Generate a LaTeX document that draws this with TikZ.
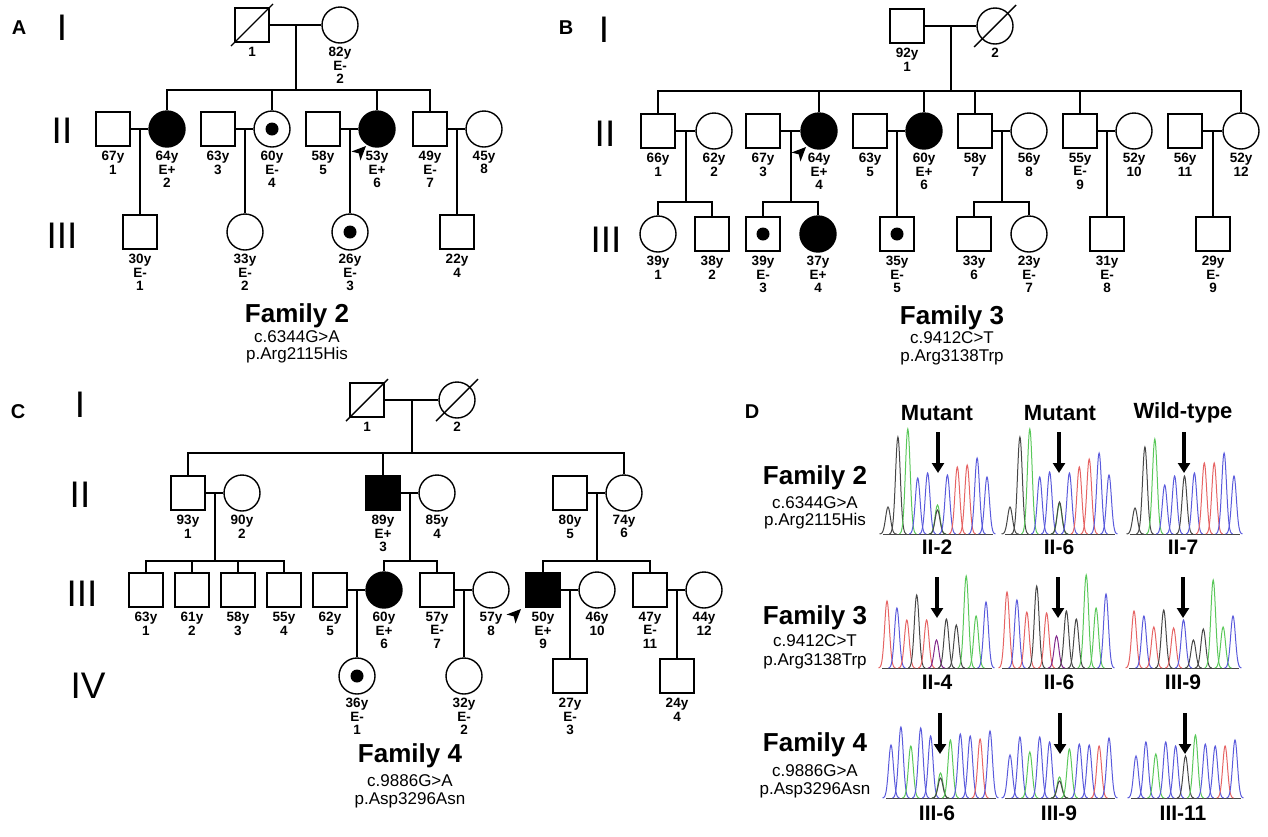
\documentclass[tikz,border=0pt]{standalone}
\usepackage{fontspec}
\setmainfont{Liberation Sans}
\usetikzlibrary{calc,arrows.meta}

\definecolor{ck}{RGB}{70,70,70}
\definecolor{cg}{RGB}{90,200,90}
\definecolor{cb}{RGB}{90,90,220}
\definecolor{cr}{RGB}{230,100,100}
\definecolor{cp}{RGB}{130,40,140}

\tikzset{
  person/.style={draw, line width=1.4pt, inner sep=0pt},
  male/.style={person, rectangle, minimum size=34pt},
  female/.style={person, circle, minimum size=36pt},
  maleaff/.style={male, fill=black},
  femaleaff/.style={female, fill=black},
  maledot/.style={male, path picture={\fill (path picture bounding box.center) circle (6.5pt);}},
  femaledot/.style={female, path picture={\fill (path picture bounding box.center) circle (6.5pt);}},
  lbl/.style={anchor=north, inner sep=0pt, align=center, font=\bfseries\fontsize{13.5}{13.5}\selectfont},
  ped/.style={line width=1.4pt},
  genno/.style={font=\fontsize{37}{40}\selectfont},
  panel/.style={font=\bfseries\fontsize{20}{22}\selectfont},
  fam/.style={font=\bfseries\fontsize{26}{28}\selectfont},
  hgvs/.style={font=\fontsize{17}{19}\selectfont},
  hdr/.style={font=\bfseries\fontsize{22}{24}\selectfont},
  smp/.style={font=\bfseries\fontsize{21}{23}\selectfont},
  basel/.style={ck, line width=1pt},
  seqarrow/.style={line width=3.5pt, -{Triangle[length=10pt,width=12pt]}},
}

% proband pointer, tip at #1
\newcommand{\probandtip}[1]{%
  \fill (#1) -- ++(-14.5,5.5) -- ++(7.2,1.8) -- ++(1.8,7.2) -- cycle;
}

% one trace: left x, baseline y, peaks as pos/colour/height
\newcommand{\chromat}[3]{%
  \draw[basel] (#1,#2) -- ++(110,0);
  \foreach \p/\cl/\h in {#3}
    \draw[\cl, line width=1pt] plot[domain=-8.5:8.5, samples=25, smooth]
      ({#1+5+9.9*\p+\x},{#2-\h*exp(-((\x)*(\x))/11.5)});
}

\begin{document}
\begin{tikzpicture}[x=1pt,y=-1pt]
\useasboundingbox (0,0) rectangle (1268,836);

% panel letters and generations
\node[panel] (pA) at (19,28) {A};
\node[panel] (pB) at (566,28) {B};
\node[panel] (pC) at (18,412) {C};
\node[panel] (pD) at (752,412) {D};
\foreach \n/\x/\y/\t in {A1/62/28/I, A2/62/131/II, A3/62/236/III,
    B1/604/30/I, B2/605/134/II, B3/606/240/III,
    C1/80/405/I, C2/80/495/II, C3/82/594/III, C4/88/686/IV}
  \node[genno] (g\n) at (\x,\y) {\t};

% ---------------- Family 2
\foreach \n/\x/\s/\t in {1/252/male/1, 2/340/female/{82y\\E-\\2}}{
  \node[\s] (A1\n) at (\x,25) {};
  \node[lbl] (tA1\n) at ($(A1\n)+(0,22)$) {\t};
}
\foreach \n/\x/\s/\t in {1/113/male/{67y\\1}, 2/167/femaleaff/{64y\\E+\\2},
    3/218/male/{63y\\3}, 4/272/femaledot/{60y\\E-\\4}, 5/323/male/{58y\\5},
    6/377/femaleaff/{53y\\E+\\6}, 7/430/male/{49y\\E-\\7}, 8/484/female/{45y\\8}}{
  \node[\s] (A2\n) at (\x,129) {};
  \node[lbl] (tA2\n) at ($(A2\n)+(0,22)$) {\t};
}
\foreach \n/\x/\s/\t in {1/140/male/{30y\\E-\\1}, 2/245/female/{33y\\E-\\2},
    3/350/femaledot/{26y\\E-\\3}, 4/457/male/{22y\\4}}{
  \node[\s] (A3\n) at (\x,232) {};
  \node[lbl] (tA3\n) at ($(A3\n)+(0,22)$) {\t};
}
\draw[ped] (A11) -- (A12);
\coordinate (mA1) at ($(A11)!.5!(A12)$);
\coordinate (sA2) at (0,90);
\draw[ped] (mA1) -- (mA1 |- sA2);
\draw[ped] (A22.north) -- (A22.north |- sA2) -- (A27.north |- sA2) -- (A27.north);
\foreach \k in {A24,A26} \draw[ped] (\k.north) -- (\k.north |- sA2);
\foreach \a/\b/\ch in {A21/A22/A31, A23/A24/A32, A25/A26/A33, A27/A28/A34}{
  \draw[ped] (\a) -- (\b);
  \coordinate (m\ch) at ($(\a)!.5!(\b)$);
  \draw[ped] (m\ch) -- (m\ch |- \ch.north);
}
\coordinate (pA) at (366,146);
\probandtip{pA}
\node[fam] (fA) at (297,316) {Family 2};
\node[hgvs] (fAc) at (297,337) {c.6344G>A};
\node[hgvs] (fAp) at (297,355) {p.Arg2115His};

% ---------------- Family 3
\foreach \n/\x/\s/\t in {1/907/male/{92y\\1}, 2/995/female/2}{
  \node[\s] (B1\n) at (\x,26) {};
  \node[lbl] (tB1\n) at ($(B1\n)+(0,22)$) {\t};
}
\foreach \n/\x/\s/\t in {1/658/male/{66y\\1}, 2/714/female/{62y\\2},
    3/763/male/{67y\\3}, 4/819/femaleaff/{64y\\E+\\4}, 5/870/male/{63y\\5},
    6/924/femaleaff/{60y\\E+\\6}, 7/975/male/{58y\\7}, 8/1029/female/{56y\\8},
    9/1080/male/{55y\\E-\\9}, 10/1134/female/{52y\\10}, 11/1185/male/{56y\\11},
    12/1241/female/{52y\\12}}{
  \node[\s] (B2\n) at (\x,131) {};
  \node[lbl] (tB2\n) at ($(B2\n)+(0,22)$) {\t};
}
\foreach \n/\x/\s/\t in {1/658/female/{39y\\1}, 2/712/male/{38y\\2},
    3/763/maledot/{39y\\E-\\3}, 4/818/femaleaff/{37y\\E+\\4},
    5/897/maledot/{35y\\E-\\5}, 6/974/male/{33y\\6}, 7/1029/female/{23y\\E-\\7},
    8/1107/male/{31y\\E-\\8}, 9/1213/male/{29y\\E-\\9}}{
  \node[\s] (B3\n) at (\x,234) {};
  \node[lbl] (tB3\n) at ($(B3\n)+(0,22)$) {\t};
}
\draw[ped] (B11) -- (B12);
\coordinate (mB1) at ($(B11)!.5!(B12)$);
\coordinate (sB2) at (0,91);
\coordinate (sB3) at (0,202);
\draw[ped] (mB1) -- (mB1 |- sB2);
\draw[ped] (B21.north) -- (B21.north |- sB2) -- (B212.north |- sB2) -- (B212.north);
\foreach \k in {B24,B26,B27,B29} \draw[ped] (\k.north) -- (\k.north |- sB2);
\foreach \a/\b/\m in {B21/B22/1, B23/B24/2, B25/B26/3, B27/B28/4, B29/B210/5, B211/B212/6}{
  \draw[ped] (\a) -- (\b);
  \coordinate (mB2\m) at ($(\a)!.5!(\b)$);
}
\foreach \m/\l/\r in {1/B31/B32, 2/B33/B34, 4/B36/B37}{
  \draw[ped] (mB2\m) -- (mB2\m |- sB3);
  \draw[ped] (\l.north) -- (\l.north |- sB3) -- (\r.north |- sB3) -- (\r.north);
}
\foreach \m/\k in {3/B35, 5/B38, 6/B39} \draw[ped] (mB2\m) -- (mB2\m |- \k.north);
\coordinate (pB) at (806,147);
\probandtip{pB}
\node[fam] (fB) at (952,318) {Family 3};
\node[hgvs] (fBc) at (952,338) {c.9412C>T};
\node[hgvs] (fBp) at (952,357) {p.Arg3138Trp};

% ---------------- Family 4
\foreach \n/\x/\s/\t in {1/367/male/1, 2/457/female/2}{
  \node[\s] (C1\n) at (\x,400) {};
  \node[lbl] (tC1\n) at ($(C1\n)+(0,22)$) {\t};
}
\foreach \n/\x/\s/\t in {1/188/male/{93y\\1}, 2/242/female/{90y\\2},
    3/383/maleaff/{89y\\E+\\3}, 4/437/female/{85y\\4}, 5/570/male/{80y\\5},
    6/624/female/{74y\\6}}{
  \node[\s] (C2\n) at (\x,493) {};
  \node[lbl] (tC2\n) at ($(C2\n)+(0,22)$) {\t};
}
\foreach \n/\x/\s/\t in {1/146/male/{63y\\1}, 2/192/male/{61y\\2}, 3/238/male/{58y\\3},
    4/284/male/{55y\\4}, 5/330/male/{62y\\5}, 6/384/femaleaff/{60y\\E+\\6},
    7/437/male/{57y\\E-\\7}, 8/491/female/{57y\\8}, 9/543/maleaff/{50y\\E+\\9},
    10/597/female/{46y\\10}, 11/650/male/{47y\\E-\\11}, 12/704/female/{44y\\12}}{
  \node[\s] (C3\n) at (\x,590) {};
  \node[lbl] (tC3\n) at ($(C3\n)+(0,22)$) {\t};
}
\foreach \n/\x/\s/\t in {1/357/femaledot/{36y\\E-\\1}, 2/464/female/{32y\\E-\\2},
    3/570/male/{27y\\E-\\3}, 4/677/male/{24y\\4}}{
  \node[\s] (C4\n) at (\x,676) {};
  \node[lbl] (tC4\n) at ($(C4\n)+(0,22)$) {\t};
}
\draw[ped] (C11) -- (C12);
\coordinate (mC1) at ($(C11)!.5!(C12)$);
\coordinate (sC2) at (0,453);
\coordinate (sC3) at (0,561);
\draw[ped] (mC1) -- (mC1 |- sC2);
\draw[ped] (C21.north) -- (C21.north |- sC2) -- (C26.north |- sC2) -- (C26.north);
\draw[ped] (C23.north) -- (C23.north |- sC2);
\foreach \a/\b/\m in {C21/C22/1, C23/C24/2, C25/C26/3}{
  \draw[ped] (\a) -- (\b);
  \coordinate (mC2\m) at ($(\a)!.5!(\b)$);
  \draw[ped] (mC2\m) -- (mC2\m |- sC3);
}
\foreach \l/\r in {C31/C34, C36/C37, C39/C311}
  \draw[ped] (\l.north) -- (\l.north |- sC3) -- (\r.north |- sC3) -- (\r.north);
\foreach \k in {C32,C33} \draw[ped] (\k.north) -- (\k.north |- sC3);
\foreach \a/\b/\ch in {C35/C36/C41, C37/C38/C42, C39/C310/C43, C311/C312/C44}{
  \draw[ped] (\a) -- (\b);
  \coordinate (m\ch) at ($(\a)!.5!(\b)$);
  \draw[ped] (m\ch) -- (m\ch |- \ch.north);
}
\coordinate (pC) at (521,609);
\probandtip{pC}
\node[fam] (fC) at (410,756) {Family 4};
\node[hgvs] (fCc) at (410,781) {c.9886G>A};
\node[hgvs] (fCp) at (410,800) {p.Asp3296Asn};

% deceased
\foreach \d in {A11,B12,C11,C12} \draw[ped] ($(\d)+(-21,21)$) -- ($(\d)+(21,-21)$);

% ---------------- sequencing
\node[fam] (dF2) at (815,478) {Family 2};
\node[hgvs] (dF2c) at (815,503) {c.6344G>A};
\node[hgvs] (dF2p) at (815,521) {p.Arg2115His};
\node[fam] (dF3) at (815,618) {Family 3};
\node[hgvs] (dF3c) at (815,641) {c.9412C>T};
\node[hgvs] (dF3p) at (815,661) {p.Arg3138Trp};
\node[fam] (dF4) at (815,745) {Family 4};
\node[hgvs] (dF4c) at (815,771) {c.9886G>A};
\node[hgvs] (dF4p) at (815,790) {p.Asp3296Asn};

\node[hdr] (h1) at (937,413) {Mutant};
\node[hdr] (h2) at (1060,413) {Mutant};
\node[hdr] (h3) at (1183,413) {Wild-type};

\chromat{883}{534}{0/ck/27, 1/ck/97, 2/cg/105, 3/cb/56, 4/cb/61, 5/cg/29, 5/ck/24, 6/cb/59, 7/cr/67, 8/cr/69, 9/cb/76, 10/cb/57}
\chromat{1005}{534}{0/ck/27, 1/ck/97, 2/cg/105, 3/cb/57, 4/cb/62, 5/cg/30, 5/ck/32, 6/cb/61, 7/cr/67, 8/cr/75, 9/cb/81, 10/cb/59}
\chromat{1130}{534}{0/ck/26, 1/ck/87, 2/cg/95, 3/cb/49, 4/cb/58, 5/ck/58, 6/cb/61, 7/cr/71, 8/cr/71, 9/cb/81, 10/cb/58}
\chromat{882}{668}{0/cr/67, 1/cb/60, 2/cr/48, 3/ck/73, 4/cr/48, 5/cp/28, 6/ck/49, 7/ck/43, 8/cg/92, 9/cg/52, 10/cb/66}
\chromat{1002}{668}{0/cr/76, 1/cb/68, 2/cr/56, 3/ck/82, 4/cr/55, 5/cp/32, 6/ck/57, 7/ck/49, 8/cg/93, 9/cg/60, 10/cb/74}
\chromat{1129}{668}{0/cr/57, 1/cb/52, 2/cr/41, 3/ck/58, 4/cr/40, 5/cb/48, 6/ck/28, 7/ck/39, 8/cg/88, 9/cg/41, 10/cb/52}
\chromat{886}{798}{0/cb/53, 1/cb/71, 2/cg/52, 3/cb/70, 4/cb/62, 5/cg/25, 5/ck/20, 6/cg/58, 7/cb/64, 8/cb/62, 9/cr/59, 10/cb/67}
\chromat{1005}{798}{0/cb/43, 1/cb/61, 2/cg/46, 3/cb/61, 4/cb/56, 5/cg/21, 5/ck/17, 6/cg/49, 7/cb/54, 8/cb/53, 9/cr/52, 10/cb/60}
\chromat{1131}{798}{0/cb/42, 1/cb/56, 2/cg/44, 3/cb/56, 4/cb/52, 5/ck/42, 6/cg/63, 7/cb/54, 8/cb/52, 9/cr/52, 10/cb/58}

\foreach \ax/\ay in {938/432, 1059/432, 1184/432, 937/577, 1058/577, 1183/577,
    940/713, 1060/713, 1185/713}
  \draw[seqarrow] (\ax,\ay) -- ++(0,41);

\foreach \n/\x/\y/\t in {11/937/547/II-2, 12/1059/547/II-6, 13/1183/547/II-7,
    21/937/682/II-4, 22/1059/682/II-6, 23/1183/682/III-9,
    31/937/813/III-6, 32/1059/813/III-9, 33/1183/813/III-11}
  \node[smp] (s\n) at (\x,\y) {\t};
\end{tikzpicture}
\end{document}
